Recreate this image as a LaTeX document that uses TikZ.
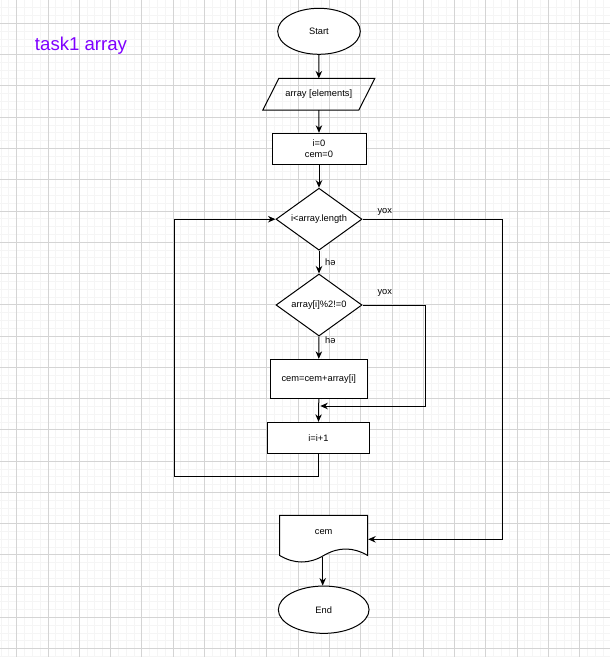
\documentclass[tikz,border=0pt]{standalone}
\usepackage{fontspec}
\setmainfont{Liberation Sans}
\usetikzlibrary{shapes.geometric,arrows.meta}
\definecolor{titlec}{RGB}{127,0,255}
\definecolor{gminor}{RGB}{245,245,245}
\definecolor{gmajor}{RGB}{212,212,212}
\newcommand{\fs}{\fontsize{9.3}{11}\selectfont}
\tikzset{
  base/.style={line width=1pt, font=\fs, align=center, inner sep=0pt, fill=white},
  term/.style={base, draw, ellipse},
  box/.style={base, draw, rectangle},
  dec/.style={base, draw, diamond, aspect=1.4, minimum width=86pt, minimum height=62pt},
  conn/.style={line width=1pt, -{Stealth[length=7.5pt,width=6.5pt]}},
  lbl/.style={font=\fs, inner sep=0pt},
}
\begin{document}
\begin{tikzpicture}[x=1pt,y=-1pt]
\useasboundingbox (0,0) rectangle (610,657);
\fill[white] (0,0) rectangle (610,657);
% grid
\foreach \i in {0,...,77} {\draw[gminor, line width=0.8pt] ({1.065+\i*7.8175},0) -- ++(0,657);}
\foreach \i in {0,...,83} {\draw[gminor, line width=0.8pt] (0,{7.665+\i*7.8175}) -- ++(610,0);}
\foreach \i in {0,...,18} {\draw[gmajor, line width=0.8pt] ({16.7+\i*31.27},0) -- ++(0,657);}
\foreach \i in {0,...,20} {\draw[gmajor, line width=0.8pt] (0,{23.3+\i*31.27}) -- ++(610,0);}

% title
\node[inner sep=0pt, text=titlec, font=\fontsize{18.6}{22}\selectfont] (title) at (81,46) {task1 array};

% nodes
\node[term, minimum width=82.6pt, minimum height=46pt] (start) at (319,31.3) {Start};
\node[base, rectangle, minimum width=111pt, minimum height=30.7pt, fill=none] (in) at (318.8,94.3) {array [elements]};
\draw[line width=1pt] ([xshift=16pt]in.north west) -- (in.north east) -- ([xshift=-16pt]in.south east) -- (in.south west) -- cycle;
\node[box, minimum width=94pt, minimum height=31pt] (init) at (319,148.8) {i=0\\cem=0};
\node[dec] (d1) at (319,219.2) {i<array.length};
\node[dec] (d2) at (319,305) {array[i]\%2!=0};
\node[box, minimum width=97pt, minimum height=39pt] (sum) at (318.8,378.8) {cem=cem+array[i]};
\node[box, minimum width=101.6pt, minimum height=31pt] (inc) at (318.5,437.8) {i=i+1};
\draw[line width=1pt, fill=white] (279.7,515.3) -- (367.7,515.3) -- (367.7,555.5)
  .. controls (353.03,546.83) and (338.37,546.83) .. (323.7,555.5)
  .. controls (309.03,564.17) and (294.37,564.17) .. (279.7,555.5) -- cycle;
\node[base, rectangle, minimum width=88pt, minimum height=47.4pt, fill=none] (doc) at (323.7,532.3) {cem};
\node[term, minimum width=90.7pt, minimum height=47.3pt] (end) at (323.7,609.7) {End};

% labels
\node[lbl] (yes1) [anchor=west] at (325,261.7) {hə};
\node[lbl] (yes2) [anchor=west] at (325,340) {hə};
\node[lbl] (no1) at (384.8,211.7) {yox};
\node[lbl] (no2) at (384.8,293.3) {yox};

\coordinate (join) at (318.8,406);
\coordinate (lp) at (174,476);

% connectors
\draw[conn] (start.south) -- (in.north);
\draw[conn] (in.south) -- (init.north);
\draw[conn] (init.south) -- (d1.north);
\draw[conn] (d1.south) -- (d2.north);
\draw[conn] (d2.south) -- (sum.north);
\draw[conn] (sum.south) -- (inc.north);
\draw[conn] (d2.east) -- ++(62.6,0) |- ([xshift=1.5pt]join);
\draw[conn] (d1.east) -- ++(140.3,0) |- ([yshift=-7pt]doc.east);
\draw[conn] (inc.south) |- (lp) |- (d1.west);
\draw[conn] ([xshift=-1pt]doc.south) -- ([xshift=-1pt]end.north);
\end{tikzpicture}
\end{document}
